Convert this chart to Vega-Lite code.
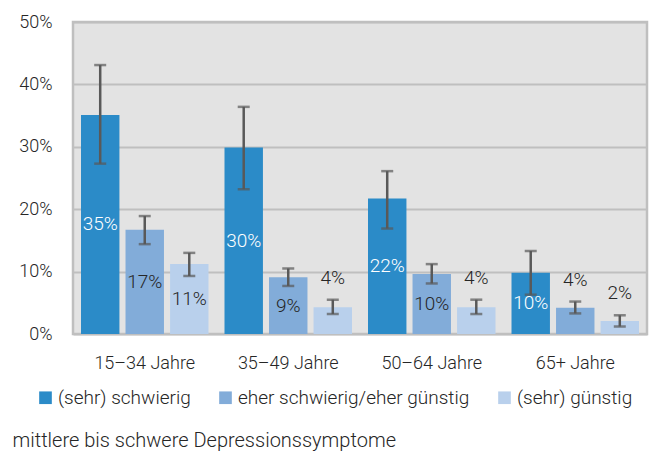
{
  "$schema": "https://vega.github.io/schema/vega-lite/v6.json",
  "width": 574,
  "height": 312,
  "autosize": {"type": "none"},
  "padding": {"left": 73, "top": 22, "right": 14, "bottom": 120},
  "background": "white",
  "config": {
    "font": "Roboto",
    "view": {"fill": "#E3E3E3", "stroke": "#BFBFBF", "strokeWidth": 2.5},
    "text": {"font": "Roboto", "fontWeight": 300}
  },
  "data": {
    "values": [
      {"age": "15–34 Jahre", "group": "(sehr) schwierig", "value": 0.351, "lo": 0.273, "hi": 0.431},
      {"age": "15–34 Jahre", "group": "eher schwierig/eher günstig", "value": 0.167, "lo": 0.144, "hi": 0.189},
      {"age": "15–34 Jahre", "group": "(sehr) günstig", "value": 0.112, "lo": 0.093, "hi": 0.130},
      {"age": "35–49 Jahre", "group": "(sehr) schwierig", "value": 0.299, "lo": 0.232, "hi": 0.364},
      {"age": "35–49 Jahre", "group": "eher schwierig/eher günstig", "value": 0.091, "lo": 0.077, "hi": 0.105},
      {"age": "35–49 Jahre", "group": "(sehr) günstig", "value": 0.043, "lo": 0.032, "hi": 0.055},
      {"age": "50–64 Jahre", "group": "(sehr) schwierig", "value": 0.217, "lo": 0.169, "hi": 0.261},
      {"age": "50–64 Jahre", "group": "eher schwierig/eher günstig", "value": 0.096, "lo": 0.081, "hi": 0.112},
      {"age": "50–64 Jahre", "group": "(sehr) günstig", "value": 0.043, "lo": 0.032, "hi": 0.055},
      {"age": "65+ Jahre", "group": "(sehr) schwierig", "value": 0.098, "lo": 0.063, "hi": 0.133},
      {"age": "65+ Jahre", "group": "eher schwierig/eher günstig", "value": 0.042, "lo": 0.033, "hi": 0.052},
      {"age": "65+ Jahre", "group": "(sehr) günstig", "value": 0.021, "lo": 0.012, "hi": 0.030}
    ]
  },
  "encoding": {
    "x": {
      "field": "age", "type": "nominal", "sort": null,
      "scale": {"paddingInner": 0.1115, "paddingOuter": 0.0557},
      "axis": {
        "title": "mittlere bis schwere Depressionssymptome",
        "titleAnchor": "start", "titleX": -61, "titleY": 106, "titleBaseline": "middle",
        "titleFontSize": 20, "titleFontWeight": 300, "titleColor": "#262626", "titleFont": "Roboto",
        "labelFontSize": 18, "labelFontWeight": 300, "labelColor": "#262626", "labelFont": "Roboto",
        "labelAngle": 0, "labelPadding": 20, "ticks": false, "domain": false, "grid": false
      }
    },
    "xOffset": {
      "field": "group", "type": "nominal",
      "scale": {"domain": ["(sehr) schwierig", "eher schwierig/eher günstig", "(sehr) günstig"], "paddingInner": 0.137, "paddingOuter": 0}
    }
  },
  "layer": [
    {
      "encoding": {
        "y": {
          "field": "value", "type": "quantitative",
          "scale": {"domain": [0, 0.5], "nice": false},
          "axis": {
            "title": null, "format": ".0%", "values": [0, 0.1, 0.2, 0.3, 0.4, 0.5],
            "labelFontSize": 18, "labelFontWeight": 300, "labelColor": "#262626", "labelFont": "Roboto",
            "labelPadding": 21, "ticks": false, "domain": false,
            "grid": true, "gridColor": "#BFBFBF", "gridWidth": 2
          }
        }
      },
      "layer": [
        {
          "mark": {"type": "bar"},
          "encoding": {
            "color": {
              "field": "group", "type": "nominal",
              "scale": {"domain": ["(sehr) schwierig", "eher schwierig/eher günstig", "(sehr) günstig"], "range": ["#2B8BC8", "#82ACD9", "#B9D0EC"]},
              "legend": {
                "title": null, "orient": "none", "direction": "horizontal",
                "legendX": -37, "legendY": 366,
                "symbolType": "square", "symbolSize": 160, "symbolStrokeWidth": 0,
                "labelFontSize": 19, "labelFontWeight": 300, "labelColor": "#262626", "labelFont": "Roboto",
                "labelOffset": 3, "columnPadding": 25, "labelLimit": 400
              }
            }
          }
        },
        {
          "mark": {"type": "rule", "color": "#595959", "strokeWidth": 2.5},
          "encoding": {"y": {"field": "lo", "type": "quantitative"}, "y2": {"field": "hi"}}
        },
        {
          "mark": {"type": "tick", "orient": "horizontal", "size": 12, "thickness": 2.5, "color": "#595959"},
          "encoding": {"y": {"field": "lo", "type": "quantitative"}}
        },
        {
          "mark": {"type": "tick", "orient": "horizontal", "size": 12, "thickness": 2.5, "color": "#595959"},
          "encoding": {"y": {"field": "hi", "type": "quantitative"}}
        },
        {
          "transform": [{"filter": "datum.value < 0.05"}],
          "mark": {"type": "text", "fontSize": 19, "fontWeight": 300, "baseline": "middle", "dy": -22, "color": "#262626"},
          "encoding": {
            "y": {"field": "hi", "type": "quantitative"},
            "text": {"field": "value", "type": "quantitative", "format": ".0%"}
          }
        }
      ]
    },
    {
      "transform": [{"filter": "datum.value >= 0.05"}],
      "mark": {"type": "text", "fontSize": 19, "fontWeight": 300, "baseline": "middle"},
      "encoding": {
        "y": {"field": "value", "type": "quantitative", "scale": {"domain": [0, 1], "nice": false}, "axis": null},
        "text": {"field": "value", "type": "quantitative", "format": ".0%"},
        "color": {"condition": {"test": "datum.group === '(sehr) schwierig'", "value": "white"}, "value": "#262626"}
      }
    }
  ],
  "resolve": {"scale": {"y": "independent"}}
}
